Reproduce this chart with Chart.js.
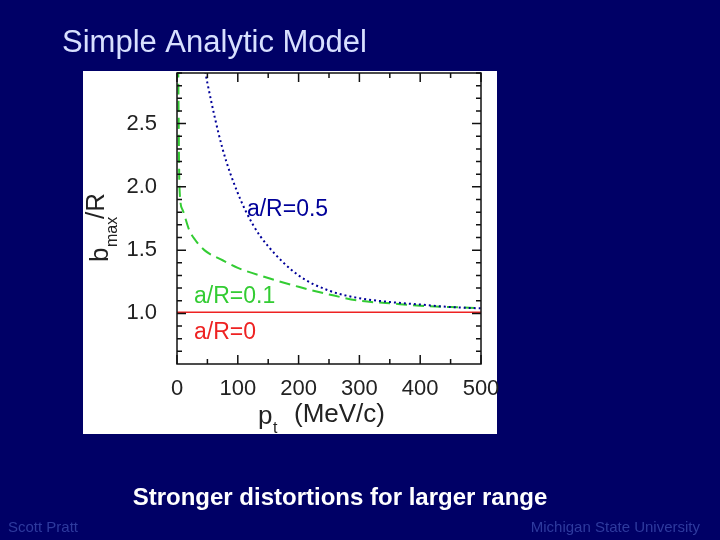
<!DOCTYPE html>
<html>
<head>
<meta charset="utf-8">
<script src="https://cdn.jsdelivr.net/npm/chart.js@4"></script>
<style>
  html, body { margin: 0; padding: 0; background: #000066; }
  #wrap { width: 720px; height: 540px; position: relative; }
</style>
</head>
<body>
<div id="wrap"><canvas id="chart" width="720" height="540"></canvas></div>
<script>
const xTickLabels = [0, 100, 200, 300, 400, 500];
const yTickLabels = [1.0, 1.5, 2.0, 2.5];
const seriesLabels = ["a/R=0.5", "a/R=0.1", "a/R=0"];

const blueX = [45, 50, 75, 100, 125, 150, 200, 250, 300, 350, 400, 450, 500];
const blueY = [2.95, 2.82, 2.3, 1.95, 1.7, 1.53, 1.3, 1.18, 1.12, 1.09, 1.07, 1.05, 1.04];
const greenX = [2, 4, 9, 20, 30, 45, 75, 100, 150, 200, 250, 300, 350, 400, 450, 500];
const greenY = [2.95, 2.0, 1.82, 1.66, 1.58, 1.5, 1.42, 1.36, 1.28, 1.21, 1.15, 1.1, 1.08, 1.06, 1.05, 1.04];
const redX = [0, 500];
const redY = [1.01, 1.01];

function pts(xs, ys) { return xs.map((x, i) => ({ x: x, y: ys[i] })); }

const FONT = "Helvetica, Arial, 'Liberation Sans'";

const page = {
    id: "page",
    beforeDraw(chart) {
        const c = chart.ctx;
        c.save();
        c.fillStyle = "#000066";
        c.fillRect(0, 0, 720, 540);
        c.fillStyle = "#ffffff";
        c.fillRect(83, 71, 414, 363);
        c.fillStyle = "#d8e0ff";
        c.font = "31px " + FONT;
        c.textBaseline = "middle";
        c.fillText("Simple Analytic Model", 62, 43);
        c.fillStyle = "#ffffff";
        c.font = "bold 24px " + FONT;
        c.textAlign = "center";
        c.fillText("Stronger distortions for larger range", 340, 498);
        c.font = "15px " + FONT;
        c.fillStyle = "#2e3a9e";
        c.textAlign = "left";
        c.fillText("Scott Pratt", 8, 528);
        c.textAlign = "right";
        c.fillText("Michigan State University", 700, 528);
        c.restore();
    },
    afterDraw(chart) {
        const c = chart.ctx, a = chart.chartArea;
        const xs = chart.scales.x, ys = chart.scales.y;
        c.save();
        c.strokeStyle = "#111";
        c.lineWidth = 1.5;
        c.strokeRect(a.left, a.top, a.right - a.left, a.bottom - a.top);
        c.beginPath();
        for (let v = 0; v <= 500; v += 50) {
            const p = xs.getPixelForValue(v);
            const len = v % 100 === 0 ? 9 : 5;
            c.moveTo(p, a.bottom); c.lineTo(p, a.bottom - len);
            c.moveTo(p, a.top); c.lineTo(p, a.top + len);
        }
        for (let k = 7; k <= 29; k++) {
            const p = ys.getPixelForValue(k / 10);
            const len = k % 5 === 0 ? 9 : 5;
            c.moveTo(a.left, p); c.lineTo(a.left + len, p);
            c.moveTo(a.right, p); c.lineTo(a.right - len, p);
        }
        c.stroke();

        c.fillStyle = "#222";
        c.font = "22px " + FONT;
        c.textAlign = "center";
        c.textBaseline = "middle";
        xTickLabels.forEach(v => c.fillText(String(v), xs.getPixelForValue(v), 389));
        c.textAlign = "right";
        yTickLabels.forEach(v => c.fillText(v.toFixed(1), 157, ys.getPixelForValue(v)));

        // x title p_t (MeV/c)
        c.textAlign = "left";
        c.font = "26px " + FONT;
        c.fillText("p", 258, 417);
        c.font = "16px " + FONT;
        c.fillText("t", 273, 429);
        c.font = "26px " + FONT;
        c.fillText("(MeV/c)", 294, 415);

        // y title b_max/R
        c.save();
        c.translate(101, 262);
        c.rotate(-Math.PI / 2);
        c.font = "26px " + FONT;
        c.fillText("b", 0, 0);
        c.font = "16px " + FONT;
        c.fillText("max", 15, 12);
        c.font = "26px " + FONT;
        c.fillText("/R", 43, -4);
        c.restore();

        // curve labels
        c.font = "23px " + FONT;
        c.textAlign = "left";
        const lab = [[seriesLabels[0], 115, 1.82, "#000099"],
                     [seriesLabels[1], 28, 1.13, "#33cc33"],
                     [seriesLabels[2], 28, 0.85, "#ee2222"]];
        lab.forEach(l => {
            c.fillStyle = l[3];
            c.fillText(l[0], xs.getPixelForValue(l[1]), ys.getPixelForValue(l[2]));
        });
        c.restore();
    }
};

new Chart(document.getElementById("chart"), {
    type: "line",
    data: {
        datasets: [
            { label: seriesLabels[0], data: pts(blueX, blueY), borderColor: "#000099", borderWidth: 2, borderDash: [2, 3], pointRadius: 0, cubicInterpolationMode: "monotone" },
            { label: seriesLabels[1], data: pts(greenX, greenY), borderColor: "#33cc33", borderWidth: 2, borderDash: [11, 6], pointRadius: 0, cubicInterpolationMode: "monotone" },
            { label: seriesLabels[2], data: pts(redX, redY), borderColor: "#ee2222", borderWidth: 1.5, pointRadius: 0 }
        ]
    },
    options: {
        responsive: false,
        animation: false,
        layout: { padding: { left: 177, right: 239, top: 73, bottom: 176 } },
        scales: {
            x: { type: "linear", min: 0, max: 500, ticks: { display: false }, grid: { display: false }, border: { display: false }, afterFit: s => { s.height = 0; } },
            y: { min: 0.6, max: 2.9, ticks: { display: false }, grid: { display: false }, border: { display: false }, afterFit: s => { s.width = 0; } }
        },
        plugins: { legend: { display: false }, tooltip: { enabled: false } }
    },
    plugins: [page]
});
</script>
</body>
</html>
